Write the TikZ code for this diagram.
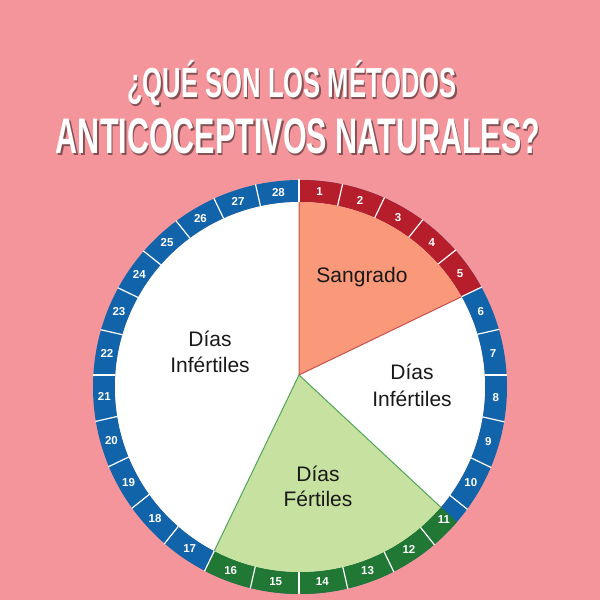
\documentclass[tikz,border=0pt]{standalone}
\usepackage{fontspec}
\setmainfont{Liberation Sans}
\newfontfamily\titlefont[FakeStretch=0.61]{Liberation Sans}

\definecolor{fondo}{RGB}{244,149,155}
\definecolor{anillorojo}{RGB}{181,30,42}
\definecolor{anilloazul}{RGB}{18,100,170}
\definecolor{anilloverde}{RGB}{32,120,52}
\definecolor{sangrado}{RGB}{250,152,122}
\definecolor{fertil}{RGB}{198,225,160}
\definecolor{bordeverde}{RGB}{80,165,90}
\definecolor{borderojo}{RGB}{200,80,75}
\definecolor{texto}{RGB}{25,25,25}

\tikzset{
  dia/.style={text=white, font=\fontsize{11.5}{12}\selectfont\bfseries, inner sep=0pt},
  zona/.style={text=texto, font=\fontsize{21}{25}\selectfont, anchor=base, inner sep=0pt},
  titulo/.style={text=white, anchor=base, inner sep=0pt},
  sombra/.style={text=black, opacity=0.45, anchor=base, inner sep=0pt},
  divisor/.style={white, line width=1.2pt}
}

% radios del anillo (centro C), rayos desde P
\def\Ro{207}
\def\Ri{185}
\def\Rm{196}
\def\Av{-43}
\newcommand\rayo[2]{%
  \pgfmathsetmacro\du{-0.1*cos(#1)+1.2*sin(#1)}%
  \pgfmathsetmacro\tr{10*(-\du+sqrt(\du*\du-1.45+(#2/10)*(#2/10)))}}

\begin{document}
\begin{tikzpicture}[x=1pt,y=1pt]
    \useasboundingbox (0,0) rectangle (600,600);
    \fill[fondo] (0,0) rectangle (600,600);

    % titulo
    \node[sombra, font=\titlefont\bfseries\fontsize{42}{44}\selectfont] at (293.5,500.5) {¿QUÉ SON LOS MÉTODOS};
    \node[titulo, font=\titlefont\bfseries\fontsize{42}{44}\selectfont] (tit1) at (292,502) {¿QUÉ SON LOS MÉTODOS};
    \node[sombra, font=\titlefont\bfseries\fontsize{50}{52}\selectfont] at (299.5,444.5) {ANTICOCEPTIVOS NATURALES?};
    \node[titulo, font=\titlefont\bfseries\fontsize{50}{52}\selectfont] (tit2) at (298,446) {ANTICOCEPTIVOS NATURALES?};

    \coordinate (C) at (300,213);
    \coordinate (P) at (299,225);

    % anillo y sectores
    \fill[anilloazul, even odd rule] (C) circle[radius=\Ro] (C) circle[radius=\Ri];
    \fill[white] (C) circle[radius=\Ri];
    \begin{scope}
        \clip (P) -- ++(90:320) arc[start angle=90, end angle=25.714, radius=320] -- cycle;
        \fill[anillorojo, even odd rule] (C) circle[radius=\Ro] (C) circle[radius=\Ri];
        \fill[sangrado] (C) circle[radius=\Ri];
    \end{scope}
    \begin{scope}
        \clip (P) -- ++(\Av:320) arc[start angle=\Av, end angle=-115.714, radius=320] -- cycle;
        \fill[anilloverde, even odd rule] (C) circle[radius=\Ro] (C) circle[radius=\Ri];
        \fill[fertil] (C) circle[radius=\Ri];
    \end{scope}

    % divisiones de los dias
    \foreach \k in {0,...,27}{
        \pgfmathsetmacro\a{90-\k*360/28}
        \rayo{\a}{\Ri}
        \coordinate (ri\k) at ([shift={(\a:\tr)}]P);
        \rayo{\a}{207.5}
        \coordinate (ro\k) at ([shift={(\a:\tr)}]P);
        \draw[divisor] (ri\k) -- (ro\k);
    }
    \rayo{\Av}{\Ri}
    \coordinate (riv) at ([shift={(\Av:\tr)}]P);

    % bordes de los sectores
    \draw[borderojo, line width=1pt] (ri0) -- (P) -- (ri5);
    \draw[bordeverde, line width=1pt] (riv) -- (P) -- (ri16);

    % numeros
    \foreach \k in {1,...,28}{
        \pgfmathsetmacro\a{90-(\k-0.5)*360/28}
        \rayo{\a}{\Rm}
        \node[dia] (d\k) at ([shift={(\a:\tr)}]P) {\k};
    }

    % textos
    \node[zona] (sang) at (362,317) {Sangrado};
    \node[zona] (inf1a) at (210,253) {Días};
    \node[zona] (inf1b) at (210,227) {Infértiles};
    \node[zona] (inf2a) at (412,220) {Días};
    \node[zona] (inf2b) at (412,193) {Infértiles};
    \node[zona] (ferta) at (318,118) {Días};
    \node[zona] (fertb) at (318,93) {Fértiles};
\end{tikzpicture}
\end{document}
